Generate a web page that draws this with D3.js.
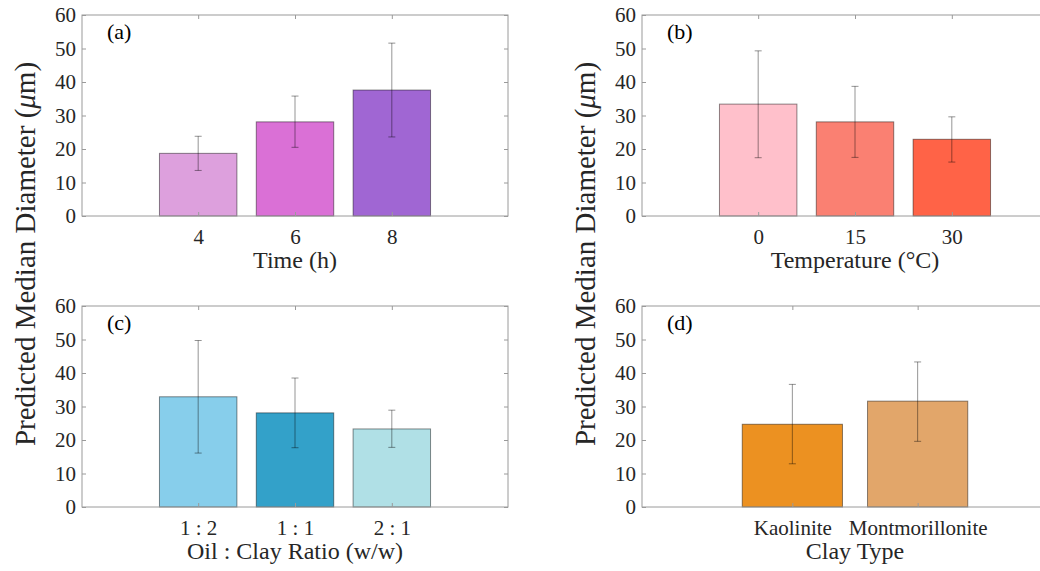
<!DOCTYPE html>
<html>
<head>
<meta charset="utf-8">
<script src="https://cdn.jsdelivr.net/npm/d3@7"></script>
<style>
  body { margin: 0; background: #fff; }
  svg { display: block; }
  svg text { font-family: "Liberation Serif", "Times New Roman", serif; }
</style>
</head>
<body>
<div id="chart"></div>
<script>
// panel (a) - time
const timeLabels = ['4', '6', '8']
const timeValues = [18.7, 28.1, 37.6]
const timeLow = [13.6, 20.5, 23.6]
const timeHigh = [23.8, 35.8, 51.6]
const timeColors = ['#DDA0DD', '#DA70D6', '#A066D3']

// panel (b) - temperature
const tempLabels = ['0', '15', '30']
const tempValues = [33.4, 28.1, 22.9]
const tempLow = [17.4, 17.5, 16.1]
const tempHigh = [49.3, 38.7, 29.6]
const tempColors = ['#FFC0CB', '#FA8072', '#FF6347']

// panel (c) - oil : clay ratio
const ratioLabels = ['1 : 2', '1 : 1', '2 : 1']
const ratioValues = [32.9, 28.1, 23.3]
const ratioLow = [16.1, 17.7, 17.8]
const ratioHigh = [49.7, 38.5, 28.9]
const ratioColors = ['#87CEEB', '#33A1C9', '#B0E0E6']

// panel (d) - clay type
const clayLabels = ['Kaolinite', 'Montmorillonite']
const clayValues = [24.7, 31.6]
const clayLow = [12.9, 19.6]
const clayHigh = [36.6, 43.3]
const clayColors = ['#EC9121', '#E2A66A']

const yTicks = [0, 10, 20, 30, 40, 50, 60]

const width = 1040
const height = 571
const panelW = 426
const panelH = 201

const panels = [
    { tag: '(a)', left: 82, top: 15, labels: timeLabels, values: timeValues, low: timeLow, high: timeHigh, colors: timeColors, xlabel: 'Time (h)' },
    { tag: '(b)', left: 642, top: 15, labels: tempLabels, values: tempValues, low: tempLow, high: tempHigh, colors: tempColors, xlabel: 'Temperature (°C)' },
    { tag: '(c)', left: 82, top: 306, labels: ratioLabels, values: ratioValues, low: ratioLow, high: ratioHigh, colors: ratioColors, xlabel: 'Oil : Clay Ratio (w/w)' },
    { tag: '(d)', left: 642, top: 306, labels: clayLabels, values: clayValues, low: clayLow, high: clayHigh, colors: clayColors, xlabel: 'Clay Type' },
]

const svg = d3
    .select('#chart')
    .append('svg')
    .attr('width', width)
    .attr('height', height)
    .style('overflow', 'hidden')

const serif = '"Liberation Serif", "Times New Roman", serif'
const textColor = '#262626'
const boxColor = '#9a9a9a'

panels.forEach((p) => {
    const n = p.labels.length
    const x = d3.scaleLinear().domain([-0.2, n + 1.2]).range([0, panelW])
    const y = d3.scaleLinear().domain([0, 60]).range([panelH, 0])
    const barW = x(0.8) - x(0)

    const g = svg.append('g').attr('transform', `translate(${p.left}, ${p.top})`)

    // bars
    g.selectAll('.bar')
        .data(p.values)
        .enter()
        .append('rect')
        .attr('class', 'bar')
        .attr('x', (d, i) => x(i + 1) - barW / 2)
        .attr('y', (d) => y(d))
        .attr('width', barW)
        .attr('height', (d) => y(0) - y(d))
        .attr('fill', (d, i) => p.colors[i])
        .attr('stroke', '#000')
        .attr('stroke-opacity', 0.45)
        .attr('stroke-width', 1)

    // error bars
    const err = g.selectAll('.err')
        .data(p.values.map((v, i) => ({ i, lo: p.low[i], hi: p.high[i] })))
        .enter()
        .append('g')
        .attr('class', 'err')
        .attr('stroke', '#000')
        .attr('stroke-opacity', 0.42)
        .attr('stroke-width', 1)
    err.append('line')
        .attr('x1', (d) => x(d.i + 1)).attr('x2', (d) => x(d.i + 1))
        .attr('y1', (d) => y(d.lo)).attr('y2', (d) => y(d.hi))
    err.append('line')
        .attr('x1', (d) => x(d.i + 1) - 3.5).attr('x2', (d) => x(d.i + 1) + 3.5)
        .attr('y1', (d) => y(d.lo)).attr('y2', (d) => y(d.lo))
    err.append('line')
        .attr('x1', (d) => x(d.i + 1) - 3.5).attr('x2', (d) => x(d.i + 1) + 3.5)
        .attr('y1', (d) => y(d.hi)).attr('y2', (d) => y(d.hi))

    // box
    g.append('rect')
        .attr('x', 0).attr('y', 0)
        .attr('width', panelW).attr('height', panelH)
        .attr('fill', 'none')
        .attr('stroke', boxColor)
        .attr('stroke-width', 1)

    // axes with inward ticks
    const yLeft = g.append('g')
        .call(d3.axisLeft(y).tickValues(yTicks).tickSize(-4).tickPadding(6))
    const yRight = g.append('g')
        .attr('transform', `translate(${panelW}, 0)`)
        .call(d3.axisRight(y).tickValues(yTicks).tickSize(-4).tickFormat(''))
    const xIdx = d3.range(1, n + 1)
    const xBottom = g.append('g')
        .attr('transform', `translate(0, ${panelH})`)
        .call(d3.axisBottom(x).tickValues(xIdx).tickSize(-4)
            .tickFormat((d) => p.labels[d - 1]))
    const xTop = g.append('g')
        .call(d3.axisTop(x).tickValues(xIdx).tickSize(-4).tickFormat(''))

    ;[yLeft, yRight, xBottom, xTop].forEach((a) => {
        a.attr('font-family', serif)
        a.select('.domain').remove()
        a.selectAll('.tick line').attr('stroke', boxColor)
        a.selectAll('.tick text')
            .attr('fill', textColor)
            .attr('font-size', 21)
    })
    xBottom.selectAll('.tick text').attr('y', 28).attr('dy', 0)

    // x label
    g.append('text')
        .attr('x', panelW / 2)
        .attr('y', panelH + 52)
        .attr('text-anchor', 'middle')
        .attr('fill', textColor)
        .attr('font-size', 24)
        .text(p.xlabel)

    // panel tag
    g.append('text')
        .attr('x', 25)
        .attr('y', 24)
        .attr('fill', '#000')
        .attr('font-size', 22)
        .text(p.tag)
})

// shared y labels
;[25, 585].forEach((cx) => {
    const t = svg.append('text')
        .attr('transform', `translate(${cx + 10}, 254) rotate(-90)`)
        .attr('text-anchor', 'middle')
        .attr('fill', textColor)
        .attr('font-size', 29)
    t.append('tspan').text('Predicted Median Diameter (')
    t.append('tspan').style('font-style', 'italic').text('μ')
    t.append('tspan').text('m)')
})
</script>
</body>
</html>
